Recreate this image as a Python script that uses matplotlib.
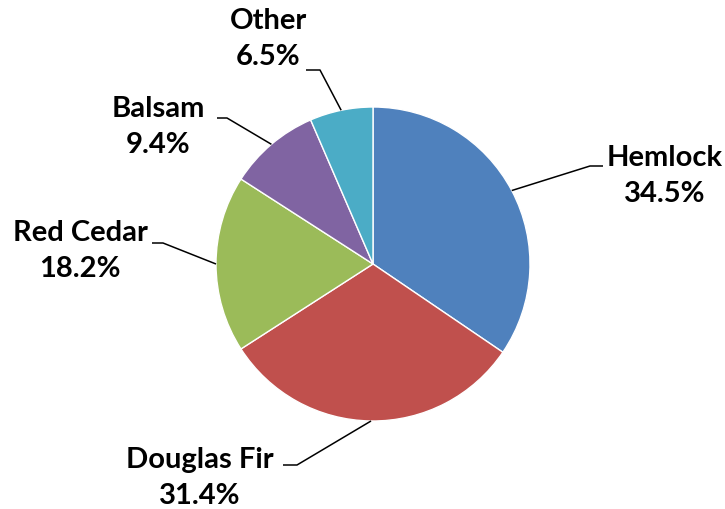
import matplotlib
matplotlib.use('Agg')
import matplotlib.pyplot as plt
import numpy as np

labels = ['Hemlock', 'Douglas Fir', 'Red Cedar', 'Balsam', 'Other']
shares = [34.5, 31.4, 18.2, 9.4, 6.5]
colors = ['#4F81BD', '#C0504D', '#9BBB59', '#8064A2', '#4BACC6']

# elbow of each leader line and label centre, in pixels of the 725x509 canvas
elbows = [(590, 166), (297, 465), (163, 243), (227, 118), (320, 70)]
elbow_ends = [603, 283, 152, 217, 306]
label_xy = [(665, 176), (200, 478), (80, 251), (158, 127), (268, 39)]

W, H = 725, 509
cx, cy, R = 373, 264, 157

fig = plt.figure(figsize=(W / 100, H / 100), dpi=100)
ax = fig.add_axes([0, 0, 1, 1])

def px(x, y):
    return (x - cx) / R, (cy - y) / R

wedges, _ = ax.pie(shares, colors=colors, startangle=90, counterclock=False,
                   radius=1, wedgeprops=dict(edgecolor='white', linewidth=1.0))

for w, lab, val, (ex, ey), endx, (lx, ly) in zip(wedges, labels, shares, elbows, elbow_ends, label_xy):
    ang = np.deg2rad((w.theta1 + w.theta2) / 2)
    sx, sy = np.cos(ang), np.sin(ang)
    e = px(ex, ey)
    e2 = px(endx, ey)
    ax.plot([sx, e[0], e2[0]], [sy, e[1], e2[1]], color='black', lw=1.1, solid_capstyle='butt')
    tx, ty = px(lx, ly)
    ax.text(tx, ty, f'{lab}\n{val:.1f}%', ha='center', va='center', fontsize=21,
            fontweight='bold', family='Lato', linespacing=1.5)

ax.set_xlim(-cx / R, (W - cx) / R)
ax.set_ylim(-(H - cy) / R, cy / R)
ax.set_aspect('auto')
ax.axis('off')

fig.savefig('out.png', dpi=100, facecolor='white')
